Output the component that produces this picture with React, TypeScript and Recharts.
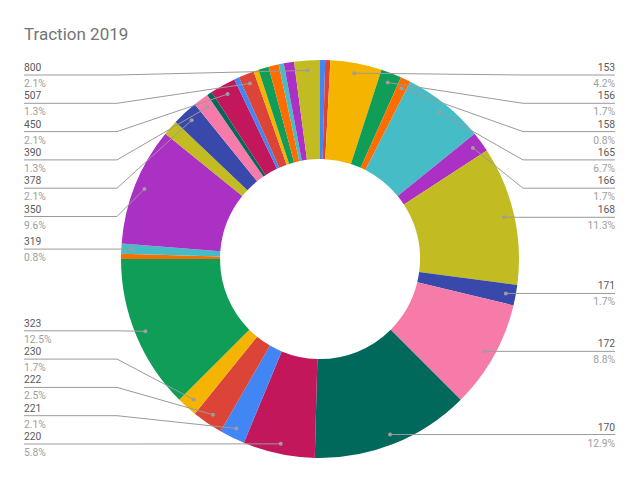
import React from "react";
import { PieChart, Pie, Cell } from "recharts";

// ---- data ----
const categories = [
  "", "", "153", "156", "158", "165", "166", "168", "171", "172", "170",
  "220", "221", "222", "230", "323", "", "319", "350", "", "378", "390",
  "", "450", "", "507", "", "", "", "", "", "800",
];
const values = [
  1, 1, 10, 4, 2, 16, 4, 27, 4, 21, 31,
  14, 5, 6, 4, 30, 1, 2, 23, 3, 5, 3,
  1, 5, 1, 3, 1, 2, 2, 1, 2, 5,
];
const palette = [
  "#4285F4", "#DB4437", "#F4B400", "#0F9D58", "#FF6D00", "#46BDC6",
  "#AB30C4", "#C2BB22", "#3949AB", "#F77BA8", "#00695C", "#C2185B",
];
const title = "Traction 2019";

const data = categories.map((name, i) => ({ name, value: values[i] }));
const total = values.reduce((a, b) => a + b, 0);

// ---- layout constants ----
const W = 640;
const H = 483;
const CX = 320;
const CY = 259;
const R_OUT = 199;
const R_IN = 100;
const DOT_INSET = 10;
const GAP = 28.3;
const MIN_Y = 75;
const MAX_Y = 444;
const LEFT_X = 24;
const RIGHT_X = 615;
const LEFT_BEND = 117;
const RIGHT_BEND = 523;
const FONT = "Roboto, 'Noto Sans', Arial, sans-serif";

function pctText(v: number) {
  return (Math.round((v * 1000) / total) / 10).toFixed(1) + "%";
}

// compute label line y positions (resolve overlaps per side)
function computeLayout() {
  const items: { index: number; side: "L" | "R"; ideal: number; y: number; show: boolean }[] = [];
  let cum = 0;
  values.forEach((v, i) => {
    const mid = ((cum + v / 2) / total) * 2 * Math.PI;
    cum += v;
    const r = R_OUT - DOT_INSET;
    const x = CX + r * Math.sin(mid);
    const y = CY - r * Math.cos(mid);
    items.push({ index: i, side: x >= CX ? "R" : "L", ideal: y, y, show: categories[i] !== "" });
  });
  const res: Record<number, { y: number; side: "L" | "R" }> = {};
  (["L", "R"] as const).forEach((side) => {
    const list = items.filter((it) => it.show && it.side === side).sort((a, b) => a.ideal - b.ideal);
    for (let k = 0; k < list.length; k++) {
      const prev = k > 0 ? list[k - 1].y + GAP : MIN_Y;
      list[k].y = Math.max(list[k].ideal, prev, MIN_Y);
    }
    for (let k = list.length - 1; k >= 0; k--) {
      const next = k < list.length - 1 ? list[k + 1].y - GAP : MAX_Y;
      list[k].y = Math.min(list[k].y, next, MAX_Y);
    }
    list.forEach((it) => (res[it.index] = { y: it.y, side }));
  });
  return res;
}

const layout = computeLayout();

const renderLabel = (props: any) => {
  const { cx, cy, midAngle, outerRadius, index, value, name } = props;
  const lay = layout[index];
  if (!lay || !name) return <g key={`l-${index}`} />;
  const rad = (-midAngle * Math.PI) / 180;
  const r = outerRadius - DOT_INSET;
  const dx = cx + r * Math.cos(rad);
  const dy = cy + r * Math.sin(rad);
  const y = lay.y;
  const isRight = lay.side === "R";
  const tx = isRight ? RIGHT_X : LEFT_X;
  const bend = isRight ? RIGHT_BEND : LEFT_BEND;
  const pts = `${tx},${y} ${bend},${y} ${dx},${dy}`;
  return (
    <g key={`l-${index}`}>
      <polyline points={pts} fill="none" stroke="#9a9a9a" strokeWidth={1} />
      <circle cx={dx} cy={dy} r={2} fill="#9e9e9e" />
      <text
        x={tx}
        y={y - 4}
        textAnchor={isRight ? "end" : "start"}
        fontFamily={FONT}
        fontSize={10.3}
        fill="#5a5a5a"
      >
        {name}
      </text>
      <text
        x={tx}
        y={y + 12}
        textAnchor={isRight ? "end" : "start"}
        fontFamily={FONT}
        fontSize={10.3}
        fill="#9e9e9e"
      >
        {pctText(value)}
      </text>
    </g>
  );
};

export default function App() {
  return (
    <div style={{ position: "absolute", left: 0, top: 0, width: W, height: H, background: "#fff" }}>
      <svg
        width={W}
        height={H}
        style={{ position: "absolute", left: 0, top: 0, pointerEvents: "none" }}
      >
        <text x={24} y={40} fontFamily={FONT} fontSize={17} fill="#757575">
          {title}
        </text>
      </svg>
      <div style={{ position: "absolute", left: 0, top: 0 }}>
        <PieChart width={W} height={H} margin={{ top: 0, right: 0, bottom: 0, left: 0 }}>
          <Pie
            data={data}
            dataKey="value"
            nameKey="name"
            cx={CX}
            cy={CY}
            innerRadius={R_IN}
            outerRadius={R_OUT}
            startAngle={90}
            endAngle={-270}
            stroke="none"
            label={renderLabel}
            labelLine={false}
            isAnimationActive={false}
          >
            {data.map((d, i) => (
              <Cell key={`c-${i}`} fill={palette[i % palette.length]} stroke="none" />
            ))}
          </Pie>
        </PieChart>
      </div>
    </div>
  );
}
